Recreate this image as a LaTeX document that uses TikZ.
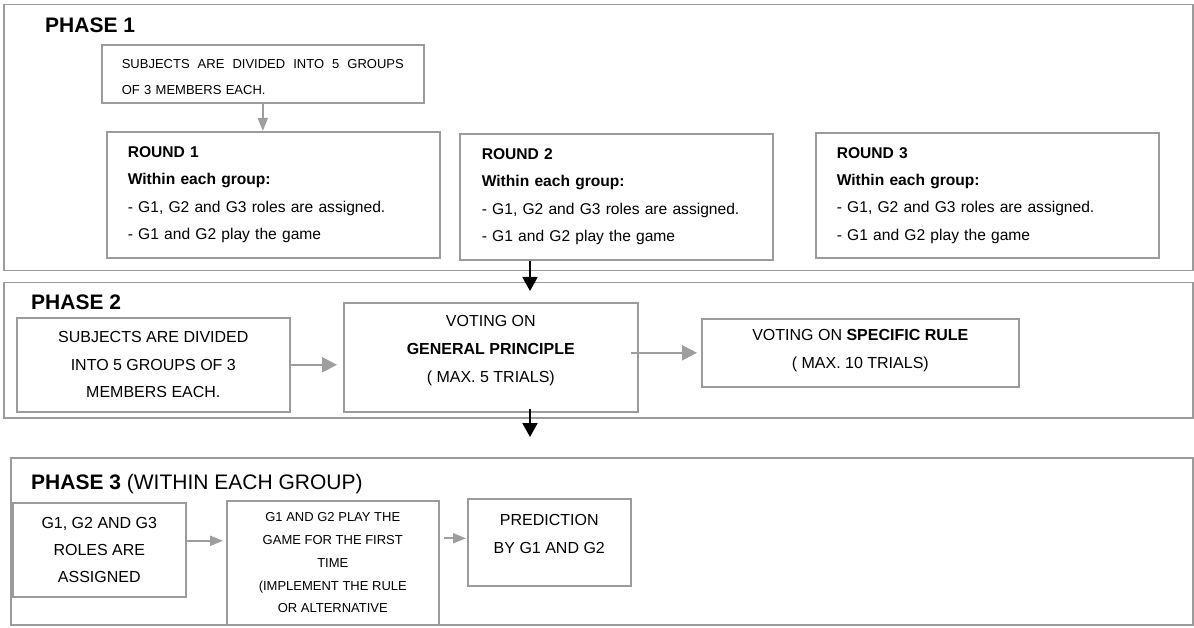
\documentclass[tikz,border=0pt]{standalone}
\usepackage{fontspec}
\setmainfont{Liberation Sans}
\usetikzlibrary{arrows.meta,calc}
\definecolor{bgray}{RGB}{155,155,155}
\definecolor{agray}{RGB}{158,158,158}
\begin{document}
\begin{tikzpicture}[x=1pt,y=-1pt,
  phasebox/.style={draw=bgray, line width=1.5pt, anchor=north west, inner sep=0pt},
  box/.style={draw=bgray, line width=1.6pt, anchor=north west, inner ysep=0pt},
  head/.style={font=\fontsize{21}{25}\selectfont\bfseries, anchor=base west, inner sep=0pt},
  garrow/.style={draw=agray, line width=2.2pt, -{Triangle[length=15pt,width=15pt]}},
  garrowsm/.style={draw=agray, line width=2pt, -{Triangle[length=13pt,width=10pt]}},
  barrow/.style={draw=black, line width=2pt, -{Triangle[length=14pt,width=15pt]}},
  roundtxt/.style={align=left, font=\fontsize{15.6}{27.3}\selectfont},
  ]
\useasboundingbox (0,0) rectangle (1194,628);
% phase frames
\node[phasebox, minimum width=1189pt, minimum height=266pt] (p1) at (3,4) {};
\node[phasebox, minimum width=1189pt, minimum height=135pt] (p2) at (3,282) {};
\node[phasebox, minimum width=1182pt, minimum height=167pt] (p3) at (10,457) {};
% headings
\node[head] (h1) at (45,32.5) {PHASE 1};
\node[head] (h2) at (31,309.5) {PHASE 2};
\node[head] (h3) at (31,489.5) {PHASE 3 \mdseries(WITHIN EACH GROUP)};
% phase 1
\node[box, minimum width=322pt, minimum height=58pt, inner xsep=20pt, text width=282pt, align=left,
      font=\fontsize{13}{26}\selectfont, text depth=20pt] (s1) at (101,44)
  {\makebox[282pt][l]{SUBJECTS\hfill ARE\hfill DIVIDED\hfill INTO\hfill 5\hfill GROUPS}\\OF 3 MEMBERS EACH.};
\node[box, minimum width=333pt, minimum height=126pt, inner xsep=21pt, text width=291pt, roundtxt] (r1) at (106,131)
  {\textbf{ROUND 1}\\\textbf{Within each group:}\\- G1, G2 and G3 roles are assigned.\\- G1 and G2 play the game};
\node[box, minimum width=313pt, minimum height=126pt, inner xsep=22pt, text width=269pt, roundtxt] (r2) at (459,133)
  {\textbf{ROUND 2}\\\textbf{Within each group:}\\- G1, G2 and G3 roles are assigned.\\- G1 and G2 play the game};
\node[box, minimum width=343pt, minimum height=125pt, inner xsep=21pt, text width=301pt, roundtxt] (r3) at (815,132)
  {\textbf{ROUND 3}\\\textbf{Within each group:}\\- G1, G2 and G3 roles are assigned.\\- G1 and G2 play the game};
% phase 2
\node[box, minimum width=273pt, minimum height=94pt, align=center,
      font=\fontsize{16}{27.5}\selectfont] (sub2) at (16,317)
  {SUBJECTS ARE DIVIDED\\INTO 5 GROUPS OF 3\\MEMBERS EACH.};
\node[box, minimum width=294pt, minimum height=109pt, align=center,
      font=\fontsize{16}{28}\selectfont, text depth=16.4pt] (gen) at (343,302)
  {VOTING ON\\\textbf{GENERAL PRINCIPLE}\\( MAX. 5 TRIALS)};
\node[box, minimum width=317pt, minimum height=68pt, align=center,
      font=\fontsize{16}{28}\selectfont, text depth=7.4pt] (spec) at (701,318)
  {VOTING ON \textbf{SPECIFIC RULE}\\( MAX. 10 TRIALS)};
% phase 3
\node[box, minimum width=173pt, minimum height=94pt, align=center,
      font=\fontsize{16}{27}\selectfont] (g123) at (12,502)
  {G1, G2 AND G3\\ROLES ARE\\ASSIGNED};
\node[box, minimum width=212pt, minimum height=124pt, align=center,
      font=\fontsize{13}{22.75}\selectfont] (play) at (226,500)
  {G1 AND G2 PLAY THE\\GAME FOR THE FIRST\\TIME\\(IMPLEMENT THE RULE\\OR ALTERNATIVE};
\node[box, minimum width=163pt, minimum height=87pt, align=center,
      font=\fontsize{16}{28}\selectfont, text depth=17pt] (pred) at (467,498)
  {PREDICTION\\BY G1 AND G2};
% connectors
\coordinate (ax) at (530,0);
\draw[garrowsm] (s1.south) -- (s1.south |- r1.north);
\draw[barrow, shorten >=11pt] (r2.south -| ax) -- (gen.north -| ax);
\draw[garrow, shorten >=6pt] (sub2.east) -- (sub2.east -| gen.west);
\draw[garrow, shorten <=-8pt, shorten >=4pt] (gen.east |- spec.west) -- (spec.west);
\draw[barrow, shorten <=-4pt, shorten >=20pt] (gen.south -| ax) -- (p3.north -| ax);
\draw[garrowsm, shorten >=3pt] ([yshift=9pt]g123.east) -- ([yshift=9pt]g123.east -| play.west);
\draw[garrowsm, shorten <=4pt, shorten >=1pt] ([yshift=4pt]play.east |- pred.west) -- ([yshift=4pt]pred.west);
\end{tikzpicture}
\end{document}
